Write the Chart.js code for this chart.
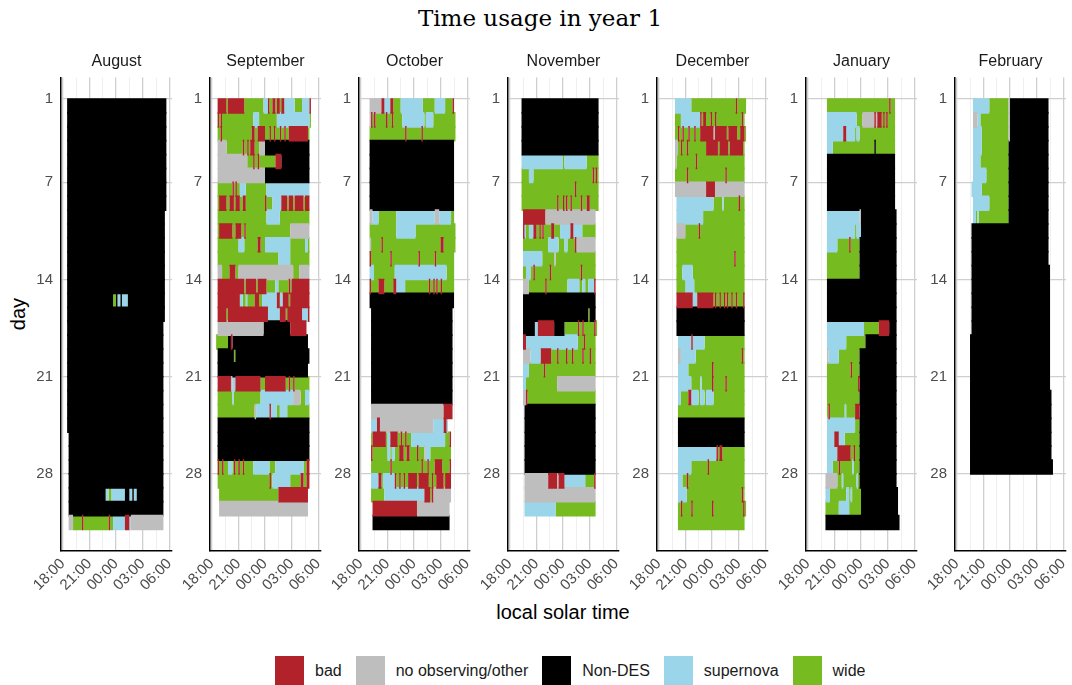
<!DOCTYPE html>
<html>
<head>
<meta charset="utf-8">
<script src="https://cdn.jsdelivr.net/npm/chart.js@4.4.0/dist/chart.umd.min.js"></script>
<style>
  body { margin: 0; background: #fff; width: 1072px; height: 685px; position: relative; overflow: hidden;
         font-family: 'Liberation Sans', Arial, sans-serif; }
  #title { position: absolute; left: 0; top: 2px; width: 1080px; text-align: center; line-height: 32px;
           font-family: 'DejaVu Serif', serif; font-size: 23px; color: #000; }
  .panel { position: absolute; top: 40px; }
  #ylab { position: absolute; left: -12px; top: 302px; width: 60px; height: 24px; line-height: 24px;
          text-align: center; font-size: 20px; transform: rotate(-90deg); }
  #xlab { position: absolute; left: 463px; top: 600px; width: 200px; line-height: 24px; text-align: center; font-size: 20px; }
  #legend { position: absolute; left: 275px; top: 656px; display: flex; align-items: center; font-size: 16px; color: #1a1a1a; }
  #legend .key { width: 29px; height: 29px; margin-right: 11px; }
  #legend .item { display: flex; align-items: center; margin-right: 14px; }
</style>
</head>
<body>
<div id="title">Time usage in year 1</div>
<div id="ylab">day</div>
<div id="xlab">local solar time</div>
<div id="legend"></div>

<script>
const categories = ['bad', 'no observing/other', 'Non-DES', 'supernova', 'wide'];
const codes = ['b', 'o', 'n', 's', 'w'];
const colors = ['#B2222B', '#BEBEBE', '#000000', '#9AD5E9', '#76BB1F'];
const months = ['August', 'September', 'October', 'November', 'December', 'January', 'February'];
const dayTicks = [1, 7, 14, 21, 28];
const hourTicks = [18, 21, 24, 27, 30];
const hourLabels = ['18:00', '21:00', '00:00', '03:00', '06:00'];

// one string per night: first number = start slot, then code+length
// slots are 10 minutes counted from 18:00
const aug = [
  '3 n67', '3 n67', '3 n67', '3 n67', '3 n67', '3 n67', '3 n67', '3 n67',
  '3 n66', '3 n66', '3 n66', '3 n66', '3 n66', '3 n66',
  '3 n31 w2 n1 s2 n1 s4 n25',
  '3 n66', '3 n65', '3 n65', '3 n65', '3 n65', '3 n65', '3 n65', '3 n65', '3 n65',
  '4 n64', '4 n64', '4 n64', '4 n64',
  '4 n25 s2 w2 s9 n3 s2 n1 s2 n18',
  '4 n64',
  '4 o3 w6 b1 w17 b1 w2 s8 b3 s1 o22'
];
const sep = [
  '4 b6 w1 b11 w13 s3 b1 w2 b2 w1 b2 w1 b2 s7 w5 s5 b1',
  '4 b1 w1 b1 w21 s4 w12 s22 w1',
  '4 w2 b1 w20 b2 w2 b5 w3 b1 w2 b1 w3 b1 w2 b1 w2 b13 w1',
  '4 o6 w11 b1 w2 b1 w1 b3 w3 o4 n30',
  '4 o20 w4 b1 w2 b1 w11 b4 n19',
  '4 o32 n30',
  '4 w10 b1 w1 b1 w2 s4 w14 s29',
  '4 w1 b5 w2 b3 w1 b3 w2 b2 w13 b1 w4 s6 b4 w1 b3 w1 b6 w1 b3',
  '4 w33 s9 w20',
  '4 w1 b9 w2 b4 w2 b1 w30 o13',
  '4 w14 s4 w9 b2 w3 s17 w10 s2 w1',
  '4 w41 s8 w13',
  '4 o3 w5 b4 w2 o37 w4 o7',
  '4 b18 w1 b7 w1 b6 w6 s2 w7 b1 w1 b12',
  '4 b15 s2 w2 s1 w5 b3 w2 s10 b2 s2 b4 w1 b13',
  '4 b6 w1 b27 s8 b4 w1 b10 s4 b1',
  '4 o31 n18 b11',
  '3 w8 n2 b1 n51',
  '4 n11 w1 n50',
  '4 n61',
  '4 b9 o1 s2 b17 w3 b14 w2 b1 w2 b1 w10',
  '4 w10 s1 w18 s22 o5 w3 s3',
  '4 w25 o1 s9 b1 s4 w2 s5 w15',
  '4 n62', '4 n62', '4 n62',
  '4 b1 w2 b1 w3 s3 w1 b1 w2 b1 w2 b1 w6 s11 w4 s19 w2 b2',
  '4 w35 b1 w1 s12 w7 b2 w2 b2',
  '5 w40 b20',
  '5 o60'
];
const oct = [
  '6 o8 b2 s4 b2 w5 s15 w8 s7 w5 b1',
  '6 o1 b1 w1 b1 w7 b1 w3 b1 w6 s15 w1 s5 w15',
  '6 w24 b1 w10 b1 w22',
  '6 n57', '6 n57', '6 n57', '6 n57', '6 n57',
  '6 o2 s4 w12 s26 o3 s8 w2',
  '6 w18 s13 w27',
  '6 o1 w7 b1 w39 b2 w8',
  '6 b1 w13 b1 w18 b1 w10 b1 w12',
  '6 s3 w14 s35 w5',
  '6 b1 w5 b4 w6 b2 s6 w16 b1 w2 b1 w1 b1 w2 b1 w8',
  '6 n57',
  '7 n55', '7 n55', '7 n55', '7 n55', '7 n55', '7 n55', '7 n55',
  '7 o49 b6',
  '7 s4 b2 o36 s7 b2 s1',
  '7 w1 b9 w1 s2 b5 w2 b1 w2 b1 w3 s23 w3 b1',
  '7 b1 w10 s2 w1 s2 w3 b3 w2 b2 w5 b1 w4 o1 s3 w14',
  '7 w13 b1 w20 b1 w3 b1 w4 b5 w5 b1',
  '7 s5 b2 w1 s8 b1 w2 b1 w2 b1 w2 b6 w1 b7 w2 b1 w2 b5 w1 b4',
  '7 w9 s27 b4 w1 b1 o12',
  '8 b30 o22',
  '8 n52'
];
const nov = [
  '8 n52', '8 n52', '8 n52', '8 n52',
  '8 s28 w1 s15 w8',
  '8 w5 s3 w40 b1 w1 b1 w1',
  '8 w36 b1 w15',
  '8 w24 b1 w3 b1 w1 b1 w2 b1 w6 b1 w3 b2 w6',
  '9 b15 o34',
  '9 b1 s1 w2 s3 b2 w2 b1 w1 b1 w5 b2 w4 s7 b2 s6 w9',
  '9 w17 s7 w4 s2 w5 b1 o13',
  '9 s13 w8 o1 w27',
  '9 w2 s3 w2 b1 w10 b1 w20 b1 w9',
  '9 o4 w11 b1 w14 s8 w2 s2 w2 s4 b1',
  '9 n49',
  '9 n44 w1 n4',
  '9 n8 s2 b11 n7 w9 b1 w2 b1 w7 b1 w1',
  '9 b2 s35 w4 b1 w7',
  '9 o5 s7 b7 w4 b1 w5 b1 w3 b1 w6 b1 w4 b1 w3',
  '9 s4 w10 b1 w34',
  '9 s2 w21 o26',
  '9 o2 b1 w46',
  '10 n48', '10 n48', '10 n48', '10 n48', '10 n48',
  '10 o16 b6 o1 b4 s14 w6 b1',
  '10 o48',
  '10 s21 w27'
];
const dec = [
  '11 s11 w30 b1 w6',
  '11 w4 s13 b1 w1 b2 w3 b1 w2 b1 w17 b1 w1',
  '11 w2 b1 w2 b1 w3 b1 w3 b1 w3 b9 o1 b8 w1 b6 w2 b3 w1',
  '11 o2 w2 b1 w3 b1 w12 b8 w1 b6 w1 b9 w1',
  '11 o1 w13 b1 w32',
  '11 w8 b1 w25 b1 w12',
  '11 o21 b6 o20',
  '12 s25 w6 s1 w10 b1 w3',
  '12 s18 w28',
  '12 o6 w9 b1 w30',
  '12 w46',
  '12 w39 b1 w6',
  '12 w4 s7 w35',
  '12 w6 s6 w34',
  '12 b11 s3 b11 w1 b1 w2 b1 w2 b1 w1 b1 w2 b1 w2 b1 w4 b1',
  '12 n46', '12 n46',
  '13 s9 b1 s8 w27',
  '13 o2 s10 w31 b1 w1',
  '13 s7 w16 b1 w21',
  '13 s9 w6 s1 w7 b1 w8 b1 w12',
  '13 s2 w5 b2 s5 w1 s3 w1 s5 w21',
  '13 w45',
  '13 n45', '13 n45',
  '13 s26 b1 w1 b2 w15',
  '13 s9 w11 b1 w24',
  '13 s3 w3 b1 w38',
  '13 s6 w37 b1 w1',
  '13 w2 b1 w6 b1 w13 b1 w20 b1 w1',
  '13 w45'
];
const jan = [
  '13 w42 b1 w3',
  '13 s20 w4 o8 b1 o1 b3 w1 b1 w1 b1 w5',
  '13 s11 b2 s6 w1 s2 w24',
  '13 s4 w28 n1 w13',
  '13 n46', '13 n46', '13 n46', '13 n46',
  '13 s22 o1 n24',
  '13 s19 w1 s3 n24',
  '13 s7 w8 b1 w6 n25',
  '13 w22 n25',
  '13 w22 n25',
  '13 n47', '13 n47', '13 n47',
  '13 s25 w10 b7 n5',
  '13 s13 w13 n21',
  '13 o1 s7 w14 n25',
  '13 w16 b1 w5 n25',
  '13 w21 b1 n25',
  '13 w22 n25',
  '13 w1 b1 w10 s1 w6 b3 n25',
  '13 s19 w3 n25',
  '13 s5 b3 s4 w10 n25',
  '13 s7 b9 w2 b1 w3 n25',
  '13 s4 w4 b1 w8 s1 w4 n25',
  '12 o8 w3 s1 w9 s1 w1 n25',
  '12 s3 w11 s2 w1 s1 w6 n25',
  '12 w9 s7 w8 n25',
  '12 n50'
];
const feb = [
  '11 s11 w13 o1 n26',
  '11 o3 s2 w19 o1 n26',
  '11 s6 w18 o1 n26',
  '11 s6 w18 n27',
  '11 s5 w19 n27',
  '11 s9 w15 n27',
  '10 s7 w18 n27',
  '11 s11 w13 n27',
  '11 s2 w1 s1 w20 n27',
  '10 n52', '10 n52', '10 n52',
  '10 n53', '10 n53', '10 n53', '10 n53', '10 n53',
  '9 n54', '9 n54', '9 n54', '9 n54',
  '9 n55', '9 n55', '9 n55', '9 n55', '9 n55',
  '9 n56'
];
const monthRows = [aug, sep, oct, nov, dec, jan, feb];

// legend
const legendEl = document.getElementById('legend');
categories.forEach((c, k) => {
  const item = document.createElement('div');
  item.className = 'item';
  item.innerHTML = `<div class="key" style="background:${colors[k]}"></div><span>${c}</span>`;
  legendEl.appendChild(item);
});

const minorTicks = hourTicks.slice(1).map((h, i) => (h + hourTicks[i]) / 2);
const xTickValues = hourTicks.concat(minorTicks).sort((a, b) => a - b);
const isMajor = v => hourTicks.includes(v);

function buildDatasets(rows) {
  const sets = categories.map((c, k) => ({
    label: c,
    data: [],
    backgroundColor: colors[k],
    borderWidth: 0,
    grouped: false,
    barPercentage: 1.12,   // slight overlap hides seams between nights
    categoryPercentage: 1
  }));
  rows.forEach((row, d) => {
    const tok = row.split(' ');
    let t = +tok[0];
    tok.slice(1).forEach(tk => {
      const k = codes.indexOf(tk[0]);
      const len = +tk.slice(1);
      sets[k].data.push({ x: [18 + t / 6, 18 + (t + len) / 6], y: d + 1.5 });
      t += len;
    });
  });
  return sets;
}

const tickFont = { family: "'Liberation Sans', Arial, sans-serif", size: 15 };

months.forEach((m, i) => {
  const wrap = document.createElement('div');
  wrap.className = 'panel';
  wrap.style.left = (21 + 149 * i) + 'px';
  const cv = document.createElement('canvas');
  cv.width = 155;
  cv.height = 566;
  wrap.appendChild(cv);
  document.body.appendChild(wrap);

  new Chart(cv, {
    type: 'bar',
    data: { datasets: buildDatasets(monthRows[i]) },
    options: {
      indexAxis: 'y',
      responsive: false,
      animation: false,
      layout: { padding: { left: 0, right: 4, top: 0, bottom: 0 } },
      plugins: {
        legend: { display: false },
        tooltip: { enabled: false },
        title: {
          display: true,
          text: m,
          fullSize: false,
          color: '#1a1a1a',
          font: { family: "'Liberation Sans', Arial, sans-serif", size: 16, weight: 'normal' },
          padding: { top: 12, bottom: 6.3 }
        }
      },
      scales: {
        x: {
          type: 'linear',
          min: 17.81,
          max: 30.3,
          offset: false,
          afterBuildTicks: s => { s.ticks = xTickValues.map(v => ({ value: v })); },
          afterFit: s => { s.height = 55; s.paddingLeft = 0; s.paddingRight = 0; },
          ticks: {
            autoSkip: false,
            minRotation: 45,
            maxRotation: 45,
            padding: 4,
            color: '#4d4d4d',
            font: tickFont,
            callback: v => isMajor(v) ? hourLabels[hourTicks.indexOf(v)] : ''
          },
          grid: {
            offset: false,
            drawTicks: false,
            color: c => isMajor(c.tick.value) ? '#cfcfcf' : '#ebebeb',
            lineWidth: c => isMajor(c.tick.value) ? 1.3 : 0.8
          },
          border: { color: '#000', width: 1.5 }
        },
        y: {
          type: 'linear',
          reverse: true,
          min: -0.55,
          max: 33.55,
          offset: false,
          afterBuildTicks: s => { s.ticks = dayTicks.map(v => ({ value: v })); },
          afterFit: s => { s.width = 40; },
          ticks: { autoSkip: false, padding: 8, color: '#4d4d4d', font: tickFont, callback: v => String(v) },
          grid: { offset: false, drawTicks: false, color: '#cfcfcf', lineWidth: 1.3 },
          border: { color: '#000', width: 1.5 }
        }
      }
    }
  });
});
</script>
</body>
</html>
